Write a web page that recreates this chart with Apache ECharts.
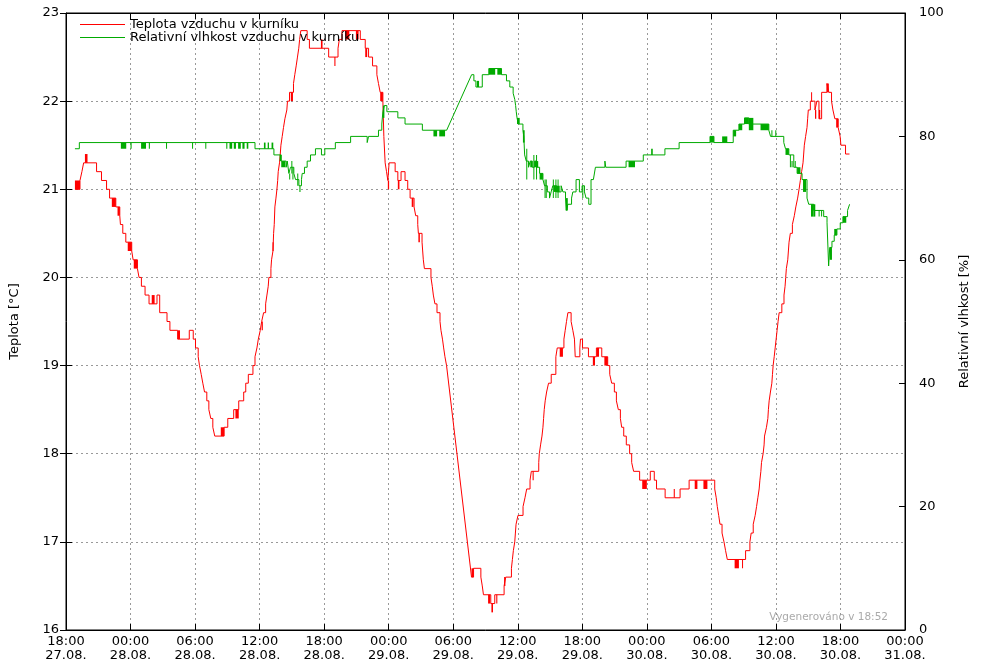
<!DOCTYPE html>
<html><head><meta charset="utf-8">
<script src="https://cdn.jsdelivr.net/npm/echarts@6/dist/echarts.min.js"></script>
<style>html,body{margin:0;padding:0;background:#fff}#c{width:1000px;height:670px}</style>
</head><body><div id="c"></div>
<script>
// time axis: hours after 27.08. 18:00
const START_DAY = 27, START_HOUR = 18, MONTH = '08';
const X_MIN = 0, X_MAX = 78, X_STEP = 6;
const tempName = 'Teplota vzduchu v kurníku';
const humName = 'Relativní vlhkost vzduchu v kurníku';
const tempAxisName = 'Teplota [°C]';
const humAxisName = 'Relativní vlhkost [%]';
const footerText = 'Vygenerováno v 18:52';

// [hour, value] = value from this hour on; 'r' = linear ramp into this point
const tempSteps = [[0.83,21.0],[1.30,21.1],[1.48,21.2],[1.64,21.3],[2.84,21.2],[3.30,21.1],[3.77,21.0],[4.05,20.9],[4.63,20.8],[5.00,20.7],[5.06,20.6],[5.28,20.5],[5.56,20.4],[6.11,20.3],[6.24,20.2],[6.64,20.1],[6.79,20.0],[7.01,19.9],[7.35,19.8],[7.72,19.7],[8.46,19.8],[8.71,19.6],[9.39,19.5],[9.66,19.4],[10.38,19.3],[11.46,19.4],[11.83,19.3],[12.04,19.2],[12.29,19.1],[12.41,19.0],[12.57,18.9],[12.72,18.8],[12.88,18.7],[13.09,18.6],[13.28,18.5],[13.46,18.4],[13.65,18.3],[13.83,18.2],[14.70,18.3],[15.04,18.4],[15.59,18.5],[16.06,18.6],[16.52,18.7],[16.71,18.8],[16.95,18.9],[17.38,19.0],[17.57,19.1],[17.75,19.2],[17.88,19.3],[18.06,19.4],[18.19,19.5],[18.37,19.6],[18.56,19.7],[18.68,19.8],[18.80,19.9],[18.86,20.0],[19.05,20.1],[19.11,20.2],[19.24,20.3],[19.30,20.5],[19.36,20.6],[19.42,20.8],[19.52,20.9],[19.61,21.0],[19.68,21.1],[19.73,21.2],[19.85,21.3],[19.92,21.4],[19.98,21.5],[20.10,21.6],[20.22,21.7],[20.35,21.8],[20.53,21.9],[20.59,22.0],[20.78,22.1],[21.15,22.2],[21.27,22.3],[21.40,22.4],[21.52,22.5],[21.64,22.6],[21.72,22.7],[21.83,22.8],[22.42,22.7],[22.63,22.6],[24.42,22.5],[25.29,22.6],[25.41,22.7],[25.66,22.8],[27.36,22.7],[27.82,22.6],[28.13,22.5],[28.50,22.4],[28.90,22.3],[29.05,22.2],[29.21,22.1],[29.46,22.0],[29.55,21.6],[29.67,21.3],[29.80,21.2],[29.92,21.1],[30.04,21.3],[30.60,21.2],[30.85,21.1],[31.15,21.2],[31.52,21.1],[31.77,21.0],[31.99,20.9],[32.36,20.8],[32.51,20.7],[32.70,20.6],[32.76,20.5],[33.10,20.4],[33.16,20.3],[33.22,20.2],[33.32,20.1],[33.93,20.0],[34.05,19.9],[34.15,19.8],[34.30,19.7],[34.49,19.6],[34.77,19.5],[34.86,19.4],[35.00,19.3],[35.11,19.2],[35.23,19.1],[35.38,19.0],[37.70,16.6,'r'],[37.89,16.7],[38.57,16.6],[38.70,16.5],[38.81,16.4],[39.49,16.3],[39.86,16.4],[40.73,16.5],[40.88,16.6],[41.41,16.7],[41.50,16.8],[41.59,16.9],[41.72,17.0],[41.78,17.1],[41.84,17.2],[42.02,17.3],[42.49,17.4],[42.67,17.5],[42.83,17.6],[43.14,17.7],[43.26,17.8],[43.95,17.9],[44.00,18.0],[44.12,18.1],[44.25,18.2],[44.34,18.3],[44.40,18.4],[44.46,18.5],[44.55,18.6],[44.68,18.7],[44.86,18.8],[45.11,18.9],[45.54,19.1],[45.67,19.2],[46.29,19.3],[46.41,19.4],[46.53,19.5],[46.66,19.6],[46.96,19.5],[47.12,19.4],[47.27,19.3],[47.34,19.1],[47.77,19.2],[47.83,19.3],[48.02,19.2],[48.57,19.1],[49.31,19.2],[49.81,19.1],[50.36,19.0],[50.55,18.9],[50.73,18.8],[50.98,18.7],[51.17,18.6],[51.35,18.5],[51.54,18.4],[51.66,18.3],[51.85,18.2],[52.09,18.1],[52.40,18.0],[52.59,17.9],[52.77,17.8],[53.33,17.7],[54.32,17.8],[54.69,17.7],[54.90,17.6],[55.70,17.5],[57.09,17.6],[57.93,17.7],[60.31,17.6],[60.45,17.5],[60.55,17.4],[60.68,17.3],[60.80,17.2],[60.99,17.1],[61.17,17.0],[61.32,16.9],[61.48,16.8],[63.18,16.9],[63.58,17.0],[63.70,17.1],[63.89,17.2],[64.07,17.3],[64.20,17.4],[64.32,17.5],[64.44,17.6],[64.51,17.7],[64.60,17.8],[64.66,17.9],[64.81,18.0],[64.90,18.1],[64.94,18.2],[65.12,18.3],[65.25,18.4],[65.30,18.5],[65.37,18.6],[65.49,18.7],[65.62,18.8],[65.68,18.9],[65.74,19.0],[65.84,19.1],[65.93,19.2],[66.02,19.3],[66.11,19.4],[66.20,19.5],[66.30,19.6],[66.55,19.7],[66.75,19.8],[66.85,19.9],[66.91,20.0],[66.97,20.1],[67.10,20.2],[67.16,20.3],[67.22,20.4],[67.34,20.5],[67.53,20.6],[67.71,20.7],[67.85,20.8],[68.02,20.9],[68.15,21.0],[68.27,21.1],[68.39,21.2],[68.52,21.3],[68.58,21.4],[68.64,21.5],[68.76,21.6],[68.89,21.7],[68.95,21.8],[69.01,21.9],[69.20,22.0],[69.63,21.9],[69.81,22.0],[70.00,21.8],[70.25,22.1],[70.74,22.2],[70.92,22.1],[71.17,22.0],[71.30,21.9],[71.48,21.8],[71.79,21.7],[71.97,21.6],[72.04,21.5],[72.47,21.4],[72.84,21.4]];

// rapid oscillation between two levels: [fromHour, toHour, low, high]
const tempFlicker = [[0.83,1.30,21.0,21.1],[1.76,2.00,21.3,21.4],[4.26,4.63,20.8,20.9],[4.79,5.00,20.7,20.8],[5.74,6.11,20.3,20.4],[6.30,6.64,20.1,20.2],[7.97,8.24,19.7,19.8],[10.38,10.60,19.3,19.4],[14.39,14.70,18.2,18.3],[15.75,16.06,18.4,18.5],[18.19,18.30,19.4,19.5],[19.20,19.30,20.3,20.4],[20.90,21.10,22.0,22.1],[23.70,23.85,22.6,22.7],[24.95,25.05,22.4,22.5],[25.97,26.34,22.7,22.8],[26.95,27.20,22.7,22.8],[27.82,28.00,22.5,22.6],[29.21,29.46,22.0,22.1],[29.92,30.04,21.0,21.1],[30.85,31.00,21.0,21.1],[32.14,32.30,20.8,20.9],[32.76,32.90,20.4,20.5],[37.70,37.89,16.6,16.7],[39.24,39.43,16.3,16.4],[39.55,39.70,16.2,16.3],[40.00,40.10,16.3,16.4],[40.73,40.85,16.5,16.6],[43.38,43.48,17.7,17.8],[45.90,46.20,19.1,19.2],[48.98,49.18,19.0,19.1],[49.35,49.55,19.1,19.2],[50.05,50.36,19.0,19.1],[53.57,54.00,17.6,17.7],[56.50,56.60,17.5,17.6],[58.45,58.70,17.6,17.7],[59.26,59.63,17.6,17.7],[62.16,62.56,16.7,16.8],[62.85,62.92,16.7,16.8],[69.27,69.33,22.0,22.1],[69.63,69.75,21.8,21.9],[70.00,70.12,21.8,21.9],[70.74,70.92,22.1,22.2],[71.60,71.79,21.7,21.8]];

const humSteps = [[0.83,78],[1.24,79],[17.57,78],[19.33,77],[20.01,76],[20.47,75],[20.57,76],[20.72,74],[20.87,75],[21.18,74],[21.34,73],[21.65,72],[21.89,73],[21.96,74],[22.17,75],[22.42,76],[22.73,77],[23.19,78],[23.75,77],[24.06,78],[25.04,79],[26.46,80],[28.00,79],[28.13,80],[29.05,81],[29.36,82],[29.46,84],[29.60,85],[29.83,84],[30.85,83],[31.52,82],[33.13,81],[35.39,81],[37.71,90,'r'],[37.92,89],[38.11,88],[38.70,90],[39.31,91],[40.49,90],[40.95,89],[41.26,88],[41.57,87],[41.72,86],[41.80,85],[41.86,84],[41.93,83],[42.05,82],[42.48,81],[42.56,80],[42.64,77],[42.79,76],[43.00,75],[43.16,76],[43.35,75],[43.55,76],[43.75,75],[44.03,74],[44.34,73],[44.49,72],[44.75,71],[44.95,70],[45.10,71],[45.26,72],[45.60,71],[46.03,72],[46.20,71],[46.44,70],[46.55,68],[46.65,69],[47.00,70],[47.12,71],[47.42,73],[47.73,71],[47.98,72],[48.20,71],[48.35,70],[48.60,69],[48.81,73],[49.03,73],[49.22,75,'r'],[50.10,76],[50.18,75],[52.07,76],[53.67,77],[55.68,78],[57.00,79],[59.87,80],[60.24,79],[62.03,81],[62.56,82],[63.08,83],[63.48,82],[65.34,81],[65.50,80],[66.73,79],[66.89,78],[67.20,77],[67.66,75],[67.97,74],[68.43,73],[68.89,70],[69.05,69],[69.51,68],[70.44,67],[70.75,66],[70.90,59,'r'],[71.00,62],[71.21,63],[71.42,64],[71.67,65],[71.98,66],[72.23,67],[72.66,68],[72.85,69,'r']];

const humFlicker = [[5.10,5.60,78,79],[6.00,6.10,78,79],[6.98,7.44,78,79],[7.70,7.80,78,79],[9.30,9.38,78,79],[11.72,11.80,78,79],[12.95,13.03,78,79],[14.90,15.00,78,79],[15.20,15.45,78,79],[15.60,15.80,78,79],[16.00,16.25,78,79],[16.40,16.60,78,79],[16.80,16.95,78,79],[18.40,18.55,78,79],[18.75,18.87,78,79],[19.11,19.27,78,79],[19.86,20.01,76,77],[20.01,20.40,75,76],[20.75,20.78,73,74],[20.95,20.98,74,76],[21.05,21.08,73,75],[21.50,21.55,72,74],[21.70,21.80,71,72],[29.46,29.60,83,85],[34.16,34.50,80,81],[34.70,35.24,80,81],[38.20,38.40,88,89],[39.31,39.90,90,91],[40.10,40.49,90,91],[41.93,42.18,82,83],[42.48,42.64,79,81],[42.79,42.83,73,78],[43.16,43.35,75,76],[43.45,43.48,73,77],[43.60,43.90,75,76],[43.70,43.73,73,77],[44.03,44.34,73,74],[44.49,44.52,70,73],[44.60,44.63,70,73],[45.26,45.29,70,73],[45.35,45.90,71,72],[45.50,45.53,70,73],[45.70,45.73,70,73],[46.44,46.65,68,70],[48.00,48.03,70,72],[52.30,52.90,75,76],[54.40,54.55,77,78],[59.87,60.24,79,80],[61.00,61.48,79,80],[62.03,62.30,80,81],[62.56,62.87,81,82],[63.08,63.48,82,83],[63.48,63.90,81,83],[64.57,65.34,81,82],[65.58,65.62,80,81],[65.94,65.98,80,81],[66.89,67.20,77,78],[67.30,67.35,75,77],[67.45,67.55,75,76],[67.75,67.80,75,76],[67.97,68.28,74,75],[68.52,68.80,71,73],[69.26,69.51,67,69],[69.51,69.66,67,69],[69.97,70.05,67,68],[70.20,70.25,67,68],[71.00,71.21,60,62],[71.42,71.67,64,65],[72.23,72.54,66,67]];

const RED = '#ff0000', GREEN = '#00aa00';

function expand(steps) {
  const out = [];
  steps.forEach((p, i) => {
    if (i > 0 && p[2] !== 'r') out.push([p[0], steps[i - 1][1]]);
    out.push([p[0], p[1]]);
  });
  return out;
}
function pad(n) { return (n < 10 ? '0' : '') + n; }
function xLabel(v) {
  const tot = START_HOUR + v;
  const d = START_DAY + Math.floor(tot / 24);
  const hh = Math.round(tot % 24);
  return pad(hh) + ':00\n' + pad(d) + '.' + MONTH + '.';
}
function bandSeries(data, color, yIdx) {
  return {
    type: 'custom', coordinateSystem: 'cartesian2d', xAxisIndex: 0, yAxisIndex: yIdx,
    silent: true, animation: false, z: yIdx === 0 ? 2 : 4,
    encode: { x: [0, 1], y: [2, 3] },
    data: data,
    renderItem: function (params, api) {
      const a = api.coord([api.value(0), api.value(3)]);
      const b = api.coord([api.value(1), api.value(2)]);
      return { type: 'rect', shape: { x: a[0], y: a[1], width: Math.max(1, b[0] - a[0]), height: b[1] - a[1] }, style: { fill: color } };
    }
  };
}

const FONT = 'DejaVu Sans';
const FS = 13;
const chart = echarts.init(document.getElementById('c'), null, { renderer: 'canvas' });
const tickStyle = { show: true, inside: true, length: 6, lineStyle: { color: '#000', width: 1 } };
const grid = { show: true, left: 63, right: 95, top: 13, bottom: 40, borderColor: '#000', borderWidth: 1 };
const dotted = { show: true, lineStyle: { color: '#999', width: 1, type: [2, 3] } };

chart.setOption({
  animation: false,
  backgroundColor: '#fff',
  textStyle: { fontFamily: FONT, color: '#000' },
  grid: grid,
  legend: {
    data: [tempName, humName], orient: 'vertical', left: 80, top: 18, padding: 0, itemGap: 0,
    itemWidth: 45, itemHeight: 1, icon: 'rect', selectedMode: false,
    textStyle: { fontFamily: FONT, fontSize: FS, color: '#000', lineHeight: 13 }
  },
  xAxis: [
    { type: 'value', min: X_MIN, max: X_MAX, interval: X_STEP, position: 'bottom',
      axisLine: { show: true, onZero: false, lineStyle: { color: '#000' } }, axisTick: tickStyle,
      axisLabel: { formatter: xLabel, fontSize: FS, color: '#000', lineHeight: 14, margin: 5, fontFamily: FONT },
      splitLine: dotted },
    { type: 'value', min: X_MIN, max: X_MAX, interval: X_STEP, position: 'top',
      axisLine: { show: true, onZero: false, lineStyle: { color: '#000' } }, axisTick: tickStyle,
      axisLabel: { show: false }, splitLine: { show: false } }
  ],
  yAxis: [
    { type: 'value', min: 16, max: 23, interval: 1, position: 'left',
      name: tempAxisName, nameLocation: 'middle', nameGap: 45, nameRotate: 90,
      nameTextStyle: { fontSize: FS, color: '#000', fontFamily: FONT },
      axisLine: { show: true, onZero: false, lineStyle: { color: '#000' } }, axisTick: tickStyle,
      axisLabel: { fontSize: FS, color: '#000', margin: 7, fontFamily: FONT },
      splitLine: dotted },
    { type: 'value', min: 0, max: 100, interval: 20, position: 'right',
      name: humAxisName, nameLocation: 'middle', nameGap: 53, nameRotate: 90,
      nameTextStyle: { fontSize: FS, color: '#000', fontFamily: FONT },
      axisLine: { show: true, onZero: false, lineStyle: { color: '#000' } }, axisTick: tickStyle,
      axisLabel: { fontSize: FS, color: '#000', margin: 14, fontFamily: FONT },
      splitLine: { show: false } },
    { type: 'value', min: 16, max: 23, interval: 1, position: 'right', offset: 0,
      axisLine: { show: false }, axisTick: tickStyle, axisLabel: { show: false }, splitLine: { show: false } }
  ],
  graphic: [{
    type: 'text', right: 1000 - 888, top: 612,
    style: { text: footerText, fill: '#aaa', font: '10.5px "DejaVu Sans"' }
  }],
  series: [
    bandSeries(tempFlicker, RED, 0),
    { name: tempName, type: 'line', xAxisIndex: 0, yAxisIndex: 0, data: expand(tempSteps),
      showSymbol: false, symbol: 'none', color: RED, lineStyle: { color: RED, width: 1 }, z: 3 },
    bandSeries(humFlicker, GREEN, 1),
    { name: humName, type: 'line', xAxisIndex: 0, yAxisIndex: 1, data: expand(humSteps),
      showSymbol: false, symbol: 'none', color: GREEN, lineStyle: { color: GREEN, width: 1 }, z: 5 }
  ]
});
</script></body></html>
